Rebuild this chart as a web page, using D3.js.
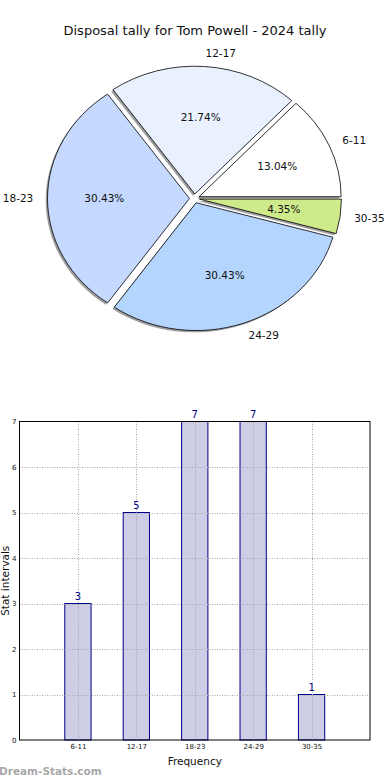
<!DOCTYPE html>
<html>
<head>
<meta charset="utf-8">
<script src="https://cdn.jsdelivr.net/npm/d3@7"></script>
<style>
  html, body { margin: 0; padding: 0; background: #fff; }
  svg { display: block; font-family: "DejaVu Sans", sans-serif; }
</style>
</head>
<body>
<svg id="chart" width="390" height="780"></svg>
<script>
const categories = ["6-11", "12-17", "18-23", "24-29", "30-35"];
const values = [3, 5, 7, 7, 1];
const sliceColors = ["#ffffff", "#e9f1fe", "#c5d8fe", "#b4d5fe", "#cfea8b"];
const yTicks = [0, 1, 2, 3, 4, 5, 6, 7];
const titleText = "Disposal tally for Tom Powell - 2024 tally";

(function () {
const svg = d3.select("#chart");

// ---------- Pie ----------
const cx = 194.5, cy = 198.5, R = 142, yScale = 0.9, explode = 5;
svg.append("text").attr("x", 195).attr("y", 35).attr("text-anchor", "middle")
  .attr("font-size", 13).attr("fill", "#111").text(titleText);

const total = d3.sum(values);
const pie = d3.pie().sort(null).startAngle(Math.PI / 2).endAngle(Math.PI / 2 - 2 * Math.PI);
const arcs = pie(values);
const arc = d3.arc().innerRadius(0).outerRadius(R);

function midMath(d) {
  const a = (d.startAngle + d.endAngle) / 2;
  return Math.PI / 2 - a;
}
function offset(d, r) {
  const t = midMath(d);
  return [cx + (explode + r) * Math.cos(t), cy - (explode + r) * Math.sin(t) * yScale];
}

const shadowG = svg.append("g");
shadowG.selectAll("path").data(arcs).join("path")
  .attr("transform", d => { const t = midMath(d); return `translate(${cx + explode * Math.cos(t) - 1.8},${cy - explode * Math.sin(t) * yScale + 1.8}) scale(1,${yScale})`; })
  .attr("d", arc).attr("fill", "#000").attr("fill-opacity", 0.38);

const sliceG = svg.append("g");
sliceG.selectAll("path").data(arcs).join("path")
  .attr("transform", d => { const t = midMath(d); return `translate(${cx + explode * Math.cos(t)},${cy - explode * Math.sin(t) * yScale}) scale(1,${yScale})`; })
  .attr("d", arc).attr("fill", (d, i) => sliceColors[i])
  .attr("stroke", "#000").attr("stroke-width", 0.8).attr("vector-effect", "non-scaling-stroke");

arcs.forEach((d, i) => {
  const t = midMath(d);
  const [lx, ly] = offset(d, 1.1 * R);
  svg.append("text").attr("x", lx).attr("y", ly).attr("dy", "0.35em")
    .attr("text-anchor", Math.cos(t) >= 0 ? "start" : "end")
    .attr("font-size", 10.5).attr("fill", "#111").text(categories[i]);
  const [px, py] = offset(d, 0.6 * R);
  svg.append("text").attr("x", px).attr("y", py).attr("dy", "0.35em")
    .attr("text-anchor", "middle").attr("font-size", 10.5).attr("fill", "#111")
    .text((values[i] / total * 100).toFixed(2) + "%");
});

// ---------- Bar chart ----------
const left = 19.5, right = 370, topY = 421.5, bottom = 740;
const x = d3.scaleLinear().domain([-1, 5]).range([left, right]);
const y = d3.scaleLinear().domain([0, 7]).range([bottom, topY]);
const bw = 0.45;

const bars = svg.append("g");
bars.selectAll("rect").data(values).join("rect")
  .attr("x", (d, i) => x(i - bw / 2)).attr("width", x(bw) - x(0))
  .attr("y", d => y(d)).attr("height", d => bottom - y(d))
  .attr("fill", "#cdcde6").attr("stroke", "#000088").attr("stroke-width", 1);

const grid = svg.append("g").attr("stroke", "#a8a8a8").attr("stroke-width", 1)
  .attr("stroke-dasharray", "1,1.5");
grid.selectAll("line.h").data(yTicks.filter(v => v > 0 && v < 7)).join("line").attr("class", "h")
  .attr("x1", left).attr("x2", right).attr("y1", d => Math.round(y(d)) + 0.5).attr("y2", d => Math.round(y(d)) + 0.5);
grid.selectAll("line.v").data(categories).join("line").attr("class", "v")
  .attr("x1", (d, i) => Math.round(x(i)) + 0.5).attr("x2", (d, i) => Math.round(x(i)) + 0.5)
  .attr("y1", topY).attr("y2", bottom);

svg.append("rect").attr("x", left).attr("y", topY).attr("width", right - left).attr("height", bottom - topY)
  .attr("fill", "none").attr("stroke", "#000").attr("stroke-width", 1);

const yAxis = d3.axisLeft(y).tickValues(yTicks).tickFormat(d3.format("d")).tickSize(0).tickPadding(3);
const ya = svg.append("g").attr("transform", `translate(${left},0)`).call(yAxis);
ya.select(".domain").remove();
ya.selectAll("text").attr("font-size", 7).attr("fill", "#111").attr("font-family", "DejaVu Sans");

const xAxis = d3.axisBottom(x).tickValues(d3.range(categories.length)).tickFormat(i => categories[i]).tickSize(0).tickPadding(4);
const xa = svg.append("g").attr("transform", `translate(0,${bottom})`).call(xAxis);
xa.select(".domain").remove();
xa.selectAll("text").attr("font-size", 7).attr("fill", "#111").attr("font-family", "DejaVu Sans");

svg.append("g").selectAll("text").data(values).join("text")
  .attr("x", (d, i) => x(i)).attr("y", d => y(d) - 4)
  .attr("text-anchor", "middle").attr("font-size", 10).attr("fill", "#000088").text(d => d);

svg.append("text").attr("x", x(2)).attr("y", 765).attr("text-anchor", "middle")
  .attr("font-size", 10.5).attr("fill", "#111").text("Frequency");
svg.append("text").attr("transform", `translate(5,${(topY + bottom) / 2}) rotate(-90)`)
  .attr("text-anchor", "middle").attr("font-size", 10.5).attr("fill", "#111").attr("dy", "0.35em").text("Stat intervals");

svg.append("text").attr("x", -1).attr("y", 775).attr("font-size", 10.5).attr("font-weight", "bold")
  .attr("fill", "#a8a8a8").text("Dream-Stats.com");
})();
</script>
</body>
</html>
